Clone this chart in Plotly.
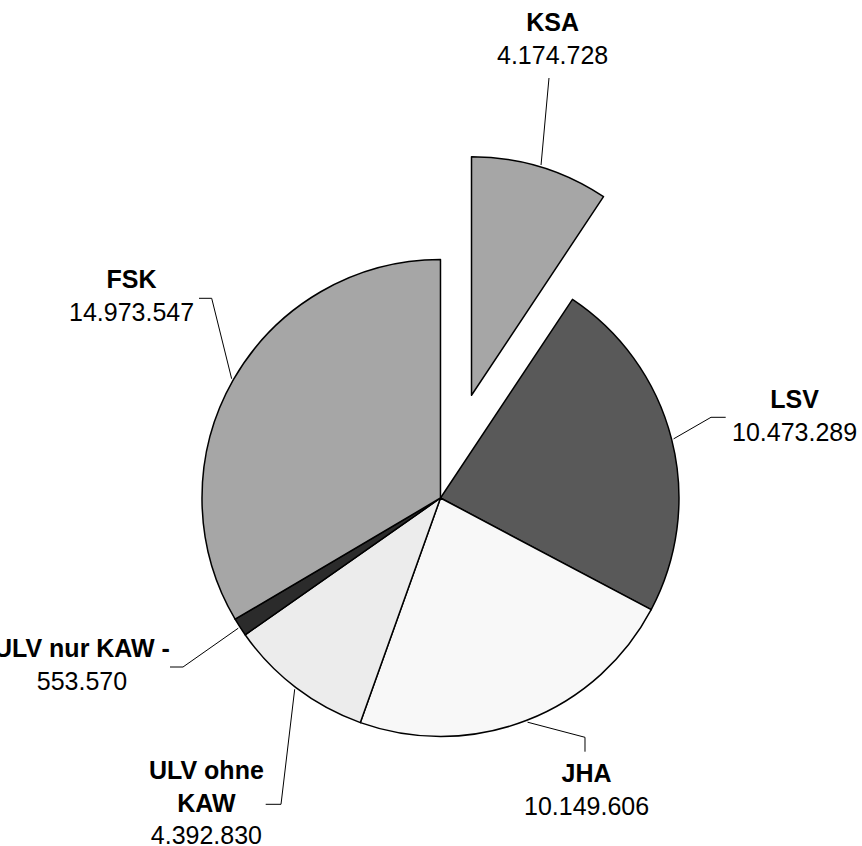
import math
import plotly.graph_objects as go

# ---- data ----
labels = ["KSA", "LSV", "JHA", "ULV ohne KAW", "ULV nur KAW", "FSK"]
values = [4174728, 10473289, 10149606, 4392830, 553570, 14973547]
value_text = ["4.174.728", "10.473.289", "10.149.606", "4.392.830", "553.570", "14.973.547"]
label_text = ["KSA", "LSV", "JHA", "ULV ohne<br>KAW", "ULV nur KAW -", "FSK"]
colors = ["#a6a6a6", "#595959", "#f8f8f8", "#ececec", "#2b2b2b", "#a6a6a6"]
pulls = [0.45, 0, 0, 0, 0, 0]

# ---- layout constants ----
W, H = 862, 846
dom_x = [0.1098, 0.9122]
dom_y = [0.0026, 0.8201]
FONT = "Liberation Sans, Arial, sans-serif"
FS = 25

# label centers (px) and leader-line bend points (px)
label_pos = [(552, 38.5), (794, 415.5), (586, 789), (206, 802), (82, 664.5), (131.5, 295.5)]
leader_pts = [
    [(549, 78)],
    [(711, 417.3), (725.7, 417.3)],
    [(585, 737.3), (585, 751.7)],
    [(281, 804.3), (265.7, 804.3)],
    [(183, 667), (170, 667)],
    [(211.7, 298.3), (199, 298.3)],
]

fig = go.Figure(go.Pie(
    labels=labels, values=values, sort=False, direction="clockwise", rotation=0,
    pull=pulls, textinfo="none", hoverinfo="label+value",
    marker=dict(colors=colors, line=dict(color="#000000", width=1.5)),
    domain=dict(x=dom_x, y=dom_y), showlegend=False,
))

# geometry that plotly uses for the pie
cx = W * (dom_x[0] + dom_x[1]) / 2
cy = H * (1 - (dom_y[0] + dom_y[1]) / 2)
r = min(W * (dom_x[1] - dom_x[0]) / 2, H * (dom_y[1] - dom_y[0]) / 2) / (1 + max(pulls))

def to_paper(p):
    return p[0] / W, 1 - p[1] / H

total = sum(values)
start = 0.0
shapes = []
annotations = []
for i, v in enumerate(values):
    frac = v / total
    mid = (start + frac / 2) * 2 * math.pi
    start += frac
    rr = r * (1 + pulls[i]) + 2
    edge = (cx + rr * math.sin(mid), cy - rr * math.cos(mid))
    pts = [edge] + leader_pts[i]
    path = ""
    for j, p in enumerate(pts):
        px, py = to_paper(p)
        path += ("M" if j == 0 else " L") + f" {px:.5f} {py:.5f}"
    shapes.append(dict(type="path", xref="paper", yref="paper", path=path,
                       line=dict(color="#000000", width=1)))
    lx, ly = to_paper(label_pos[i])
    annotations.append(dict(
        x=lx, y=ly, xref="paper", yref="paper", xanchor="center", yanchor="middle",
        showarrow=False, align="center",
        text=f"<b>{label_text[i]}</b><br>{value_text[i]}",
        font=dict(family=FONT, size=FS, color="#000000"),
    ))

fig.update_layout(
    width=W, height=H, autosize=False,
    margin=dict(l=0, r=0, t=0, b=0),
    paper_bgcolor="#ffffff", plot_bgcolor="#ffffff",
    shapes=shapes, annotations=annotations,
    font=dict(family=FONT, size=FS, color="#000000"),
)

fig.write_html("out.html", config={"displayModeBar": False},
               post_script="document.body.style.margin='0';document.body.style.overflow='hidden';")
